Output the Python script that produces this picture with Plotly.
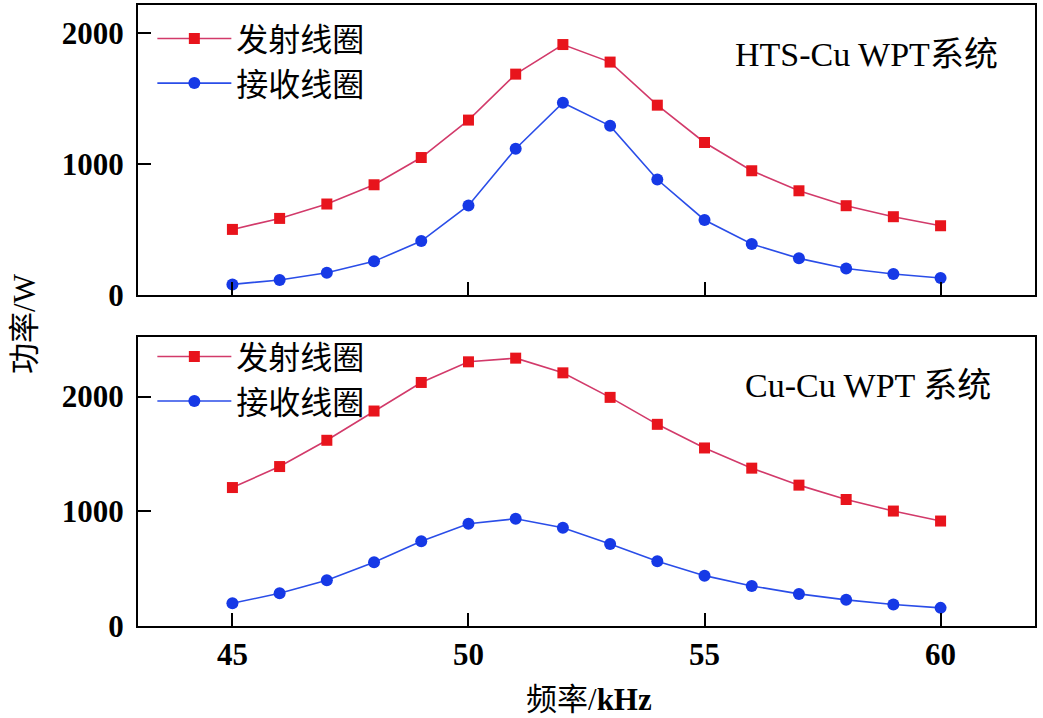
import plotly.graph_objects as go

freq = [45, 46, 47, 48, 49, 50, 51, 52, 53, 54, 55, 56, 57, 58, 59, 60]

hts_tx = [501, 585, 695, 842, 1050, 1336, 1687, 1913, 1779, 1450, 1165, 949, 796, 682, 598, 529]
hts_rx = [81, 115, 170, 257, 412, 684, 1117, 1468, 1292, 882, 573, 389, 280, 203, 160, 130]

cu_tx = [1207, 1390, 1619, 1874, 2123, 2303, 2335, 2207, 1993, 1758, 1552, 1376, 1228, 1103, 1002, 915]
cu_rx = [198, 285, 398, 555, 738, 891, 935, 857, 715, 564, 439, 349, 280, 228, 187, 158]

name_tx = "发射线圈"
name_rx = "接收线圈"
label_top = "HTS-Cu WPT系统"
label_bot = "Cu-Cu WPT 系统"
y_title = "功率/W"
x_title = "频率/<b>kHz</b>"

x_ticks = [45, 50, 55, 60]
y_ticks = [0, 1000, 2000]

RED_LINE = "#d23a6a"
RED_MK = "#e8141c"
BLUE_LINE = "#2a4de8"
BLUE_MK = "#1639e6"

SERIF = "Liberation Serif, Times New Roman, Noto Sans CJK SC"

fig = go.Figure()

def add(x, y, name, group, xa, ya, legend, color_line, color_mk, symbol, size):
    fig.add_trace(go.Scatter(
        x=x, y=y, name=name, mode="lines+markers", legendgroup=group,
        xaxis=xa, yaxis=ya, legend=legend,
        line=dict(color=color_line, width=1.6),
        marker=dict(color=color_mk, symbol=symbol, size=size),
    ))

add(freq, hts_tx, name_tx, "a1", "x", "y", "legend", RED_LINE, RED_MK, "square", 11)
add(freq, hts_rx, name_rx, "a2", "x", "y", "legend", BLUE_LINE, BLUE_MK, "circle", 12)
add(freq, cu_tx, name_tx, "b1", "x2", "y2", "legend2", RED_LINE, RED_MK, "square", 11)
add(freq, cu_rx, name_rx, "b2", "x2", "y2", "legend2", BLUE_LINE, BLUE_MK, "circle", 12)

axis_common = dict(
    showline=True, linecolor="black", linewidth=2, mirror=True,
    ticks="inside", ticklen=13, tickwidth=2, tickcolor="black",
    showgrid=False, zeroline=False,
    tickfont=dict(family=SERIF, size=31, color="black", weight="bold"),
)

legend_common = dict(xanchor="left", yanchor="top", bgcolor="rgba(0,0,0,0)",
                     itemwidth=74, tracegroupgap=0,
                     font=dict(family=SERIF, size=32, color="black"))

fig.update_layout(
    width=1043, height=718,
    margin=dict(l=138, r=8, t=3, b=92),
    paper_bgcolor="white", plot_bgcolor="white",
    showlegend=True,
    xaxis=dict(domain=[0, 1], anchor="y", range=[43, 62], tickvals=x_ticks,
               showticklabels=False, **axis_common),
    yaxis=dict(domain=[0.533, 1], anchor="x", range=[0, 2215], tickvals=y_ticks,
               ticklabelstandoff=6, **axis_common),
    xaxis2=dict(domain=[0, 1], anchor="y2", range=[43, 62], tickvals=x_ticks,
                ticklabelstandoff=0, **axis_common),
    yaxis2=dict(domain=[0, 0.4655], anchor="x2", range=[0, 2520], tickvals=y_ticks,
                ticklabelstandoff=6, **axis_common),
    legend=dict(x=0.016, y=0.99, **legend_common),
    legend2=dict(x=0.016, y=0.478, **legend_common),
    annotations=[
        dict(text=label_top, x=0.961, y=0.921, xref="paper", yref="paper",
             xanchor="right", yanchor="middle", showarrow=False,
             font=dict(family=SERIF, size=34, color="black")),
        dict(text=label_bot, x=0.953, y=0.387, xref="paper", yref="paper",
             xanchor="right", yanchor="middle", showarrow=False,
             font=dict(family=SERIF, size=34, color="black")),
        dict(text=y_title, x=-0.126, y=0.488, xref="paper", yref="paper",
             xanchor="center", yanchor="middle", textangle=-90, showarrow=False,
             font=dict(family=SERIF, size=31, color="black")),
        dict(text=x_title, x=0.503, y=-0.119, xref="paper", yref="paper",
             xanchor="center", yanchor="middle", showarrow=False,
             font=dict(family=SERIF, size=31, color="black")),
    ],
)

fig.write_html("out.html", config={"displayModeBar": False},
               post_script="document.body.style.margin='0px';document.body.style.overflow='hidden';")
